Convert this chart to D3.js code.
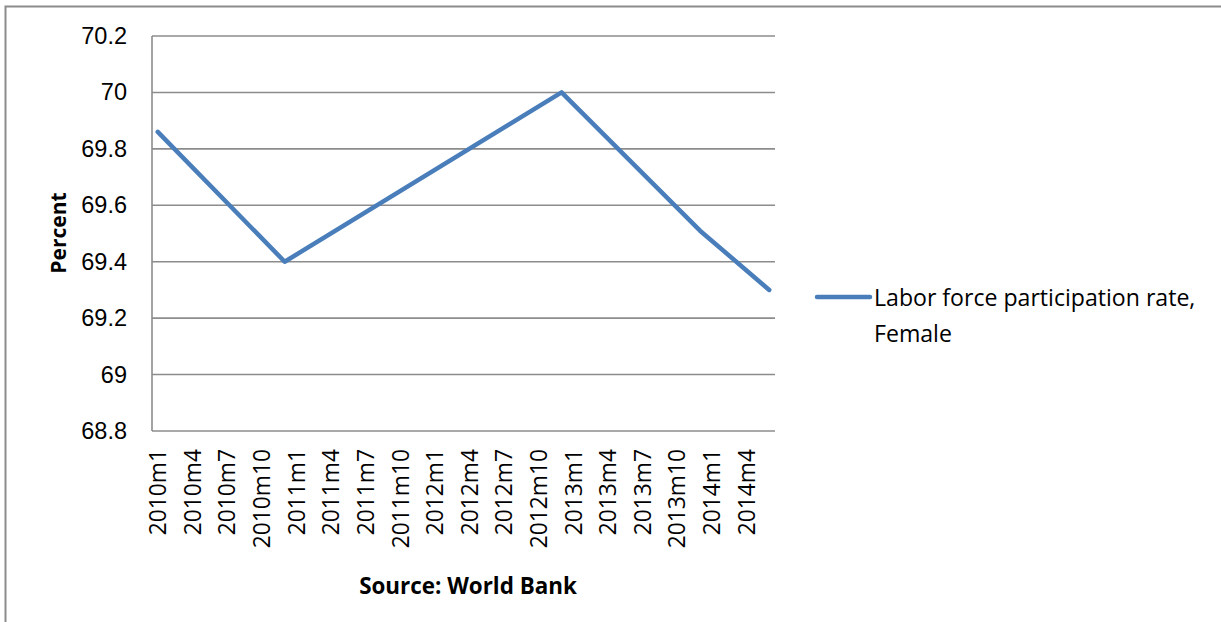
<!DOCTYPE html>
<html>
<head>
<meta charset="utf-8">
<script src="https://cdn.jsdelivr.net/npm/d3@7/dist/d3.min.js"></script>
<style>
  html, body { margin: 0; padding: 0; background: #fff; }
  svg { display: block; font-family: "Open Sans", Lato, sans-serif; }
</style>
</head>
<body>
<svg id="chart" width="1221" height="622"></svg>
<script>
// Monthly categories on the x axis
const months = [
  "2010m1","2010m2","2010m3","2010m4","2010m5","2010m6","2010m7","2010m8","2010m9","2010m10","2010m11","2010m12",
  "2011m1","2011m2","2011m3","2011m4","2011m5","2011m6","2011m7","2011m8","2011m9","2011m10","2011m11","2011m12",
  "2012m1","2012m2","2012m3","2012m4","2012m5","2012m6","2012m7","2012m8","2012m9","2012m10","2012m11","2012m12",
  "2013m1","2013m2","2013m3","2013m4","2013m5","2013m6","2013m7","2013m8","2013m9","2013m10","2013m11","2013m12",
  "2014m1","2014m2","2014m3","2014m4","2014m5","2014m6"
];
// Observed rates (percent) at the months where the series changes direction
const obsMonths = ["2010m1", "2010m12", "2012m12", "2013m12", "2014m6"];
const obsValues = [69.86, 69.4, 70.0, 69.51, 69.3];
const yTicks = [68.8, 69, 69.2, 69.4, 69.6, 69.8, 70, 70.2];
const seriesName = ["Labor force participation rate,", "Female"];

const svg = d3.select("#chart");
const plot = { left: 152, right: 775, top: 36, bottom: 431 };

// Outer frame
svg.append("rect")
  .attr("x", 5.5).attr("y", 6.5)
  .attr("width", 1230).attr("height", 630)
  .attr("fill", "none").attr("stroke", "#8c8c8c").attr("stroke-width", 2);

const x = d3.scalePoint().domain(months).range([plot.left, plot.right]).padding(0.5);
const y = d3.scaleLinear().domain([68.8, 70.2]).range([plot.bottom, plot.top]);

// Horizontal gridlines and y labels
const yAxis = d3.axisLeft(y).tickValues(yTicks).tickSize(0).tickPadding(25)
  .tickFormat(d => d3.format("")(+d.toFixed(1)));
const gy = svg.append("g").attr("transform", `translate(${plot.left},0)`).call(yAxis);
gy.select(".domain").remove();
gy.selectAll("text").attr("font-size", 23.5).attr("fill", "#000");

svg.append("g").selectAll("line").data(yTicks).join("line")
  .attr("x1", plot.left).attr("x2", plot.right)
  .attr("y1", d => y(d)).attr("y2", d => y(d))
  .attr("stroke", "#8c8c8c").attr("stroke-width", 1.6);

// Left axis line
svg.append("line")
  .attr("x1", plot.left).attr("x2", plot.left)
  .attr("y1", plot.top).attr("y2", plot.bottom)
  .attr("stroke", "#8c8c8c").attr("stroke-width", 1.6);

// X labels every third month, rotated
const xLabels = months.filter((m, i) => i % 3 === 0);
svg.append("g").selectAll("text").data(xLabels).join("text")
  .attr("transform", d => `translate(${x(d)},449) rotate(-90)`)
  .attr("text-anchor", "end")
  .attr("dominant-baseline", "central")
  .attr("font-size", 22.8)
  .attr("fill", "#000")
  .text(d => d);

// Series line
const pts = obsMonths.map((m, i) => ({ m, v: obsValues[i] }));
const line = d3.line().x(d => x(d.m)).y(d => y(d.v));
svg.append("path").datum(pts)
  .attr("d", line)
  .attr("fill", "none")
  .attr("stroke", "#4a7ebb")
  .attr("stroke-width", 4.5)
  .attr("stroke-linejoin", "round")
  .attr("stroke-linecap", "round");

// Axis titles
svg.append("text")
  .attr("transform", "translate(58,233) rotate(-90)")
  .attr("text-anchor", "middle").attr("dominant-baseline", "central")
  .attr("font-size", 21).attr("font-weight", "bold")
  .text("Percent");

svg.append("text")
  .attr("x", 468).attr("y", 585)
  .attr("text-anchor", "middle").attr("dominant-baseline", "central")
  .attr("font-size", 22.4).attr("font-weight", "bold")
  .text("Source: World Bank");

// Legend
const legend = svg.append("g");
legend.append("line")
  .attr("x1", 817).attr("x2", 870).attr("y1", 297).attr("y2", 297)
  .attr("stroke", "#4a7ebb").attr("stroke-width", 4.5).attr("stroke-linecap", "round");
legend.selectAll("text").data(seriesName).join("text")
  .attr("x", 874).attr("y", (d, i) => 297 + i * 36)
  .attr("dominant-baseline", "central")
  .attr("font-size", 23.1).attr("fill", "#000")
  .text(d => d);
</script>
</body>
</html>
